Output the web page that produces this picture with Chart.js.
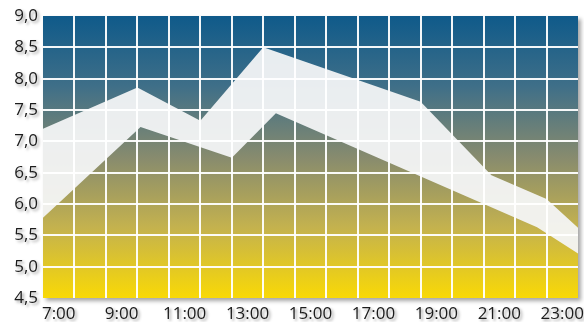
<!DOCTYPE html>
<html>
<head>
<meta charset="utf-8">
<script src="https://cdn.jsdelivr.net/npm/chart.js@4/dist/chart.umd.min.js"></script>
<style>
  html, body { margin: 0; padding: 0; background: #ffffff; }
  #wrap { width: 584px; height: 322px; position: relative; }
</style>
</head>
<body>
<div id="wrap"><canvas id="chart"></canvas></div>
<script>
// Hour labels shown under the plot (every other hour)
const hourLabels = ['7:00', '9:00', '11:00', '13:00', '15:00', '17:00', '19:00', '21:00', '23:00'];
const labelHours = [7, 9, 11, 13, 15, 17, 19, 21, 23];

// Upper edge of the range band
const upperHours  = [6.5, 9.5, 11.5, 13.5, 18.5, 20.75, 22.5, 23.5];
const upperValues = [7.20, 7.86, 7.33, 8.50, 7.63, 6.46, 6.08, 5.62];

// Lower edge of the range band
const lowerHours  = [6.5, 9.6, 12.5, 13.9, 22.2, 23.5];
const lowerValues = [5.78, 7.23, 6.74, 7.45, 5.63, 5.21];

// Axis extents
const xMin = 6.5, xMax = 23.5;
const yMin = 4.5, yMax = 9.0, yStep = 0.5;

const toPoints = (xs, ys) => xs.map((x, i) => ({ x: x, y: ys[i] }));

const GRID = 'rgba(255,255,255,0.95)';
const NONE = 'rgba(0,0,0,0)';

// Gradient backdrop with a soft drop shadow behind the plot area
const plotBackdrop = {
  id: 'plotBackdrop',
  beforeDraw(chart) {
    const { ctx, chartArea: a } = chart;
    ctx.save();
    ctx.shadowColor = 'rgba(0,0,0,0.35)';
    ctx.shadowBlur = 4;
    ctx.shadowOffsetX = 3;
    ctx.shadowOffsetY = 3;
    const g = ctx.createLinearGradient(0, a.top, 0, a.bottom);
    g.addColorStop(0.00, '#0f5a8a');
    g.addColorStop(0.25, '#3f6f88');
    g.addColorStop(0.50, '#878b6e');
    g.addColorStop(0.75, '#c4b24e');
    g.addColorStop(1.00, '#f9d906');
    ctx.fillStyle = g;
    ctx.fillRect(a.left, a.top, a.right - a.left, a.bottom - a.top);
    ctx.restore();
  }
};

// Soft shadow under the tick label text
const labelShadow = {
  id: 'labelShadow',
  beforeDraw(chart) {
    Object.values(chart.scales).forEach(s => {
      if (s.__shadowed) return;
      const orig = s.drawLabels;
      s.drawLabels = function (area) {
        const c = this.ctx;
        c.save();
        c.shadowColor = 'rgba(0,0,0,0.38)';
        c.shadowBlur = 3;
        c.shadowOffsetX = 2;
        c.shadowOffsetY = 2;
        orig.call(this, area);
        c.restore();
      };
      s.__shadowed = true;
    });
  }
};

new Chart(document.getElementById('chart'), {
  type: 'line',
  data: {
    datasets: [
      {
        label: 'upper',
        data: toPoints(upperHours, upperValues),
        borderWidth: 0,
        pointRadius: 0,
        tension: 0,
        fill: '+1',
        backgroundColor: 'rgba(244,245,246,0.94)'
      },
      {
        label: 'lower',
        data: toPoints(lowerHours, lowerValues),
        borderWidth: 0,
        pointRadius: 0,
        tension: 0,
        fill: false
      }
    ]
  },
  options: {
    responsive: true,
    maintainAspectRatio: false,
    animation: false,
    layout: { padding: { top: 16, right: 4, bottom: 0, left: 0 } },
    plugins: {
      legend: { display: false },
      tooltip: { enabled: false }
    },
    scales: {
      x: {
        type: 'linear',
        min: xMin,
        max: xMax,
        afterBuildTicks(scale) {
          const t = [];
          for (let h = xMin; h <= xMax + 1e-9; h += 0.5) t.push({ value: h });
          scale.ticks = t;
        },
        afterFit(scale) { scale.height = 24; },
        border: { display: false },
        grid: {
          z: 1,
          lineWidth: 2,
          drawTicks: false,
          color: ctx => {
            const v = ctx.tick ? ctx.tick.value : 0;
            return (Math.abs(v % 1 - 0.5) < 1e-6 && v > xMin && v < xMax) ? GRID : NONE;
          }
        },
        ticks: {
          autoSkip: false,
          maxRotation: 0,
          padding: 6,
          color: '#1c1c1c',
          font: { family: '"Open Sans", sans-serif', size: 17 },
          callback: value => {
            const i = labelHours.indexOf(value);
            return i >= 0 ? hourLabels[i] : '';
          }
        }
      },
      y: {
        min: yMin,
        max: yMax,
        afterFit(scale) { scale.width = 43; },
        border: { display: false },
        grid: {
          z: 1,
          lineWidth: 2,
          drawTicks: false,
          color: ctx => {
            const v = ctx.tick ? ctx.tick.value : 0;
            return (v > yMin + 1e-6 && v < yMax - 1e-6) ? GRID : NONE;
          }
        },
        ticks: {
          stepSize: yStep,
          padding: 5,
          color: '#1c1c1c',
          font: { family: '"Open Sans", sans-serif', size: 17 },
          callback: v => v.toFixed(1).replace('.', ',')
        }
      }
    }
  },
  plugins: [plotBackdrop, labelShadow]
});
</script>
</body>
</html>
